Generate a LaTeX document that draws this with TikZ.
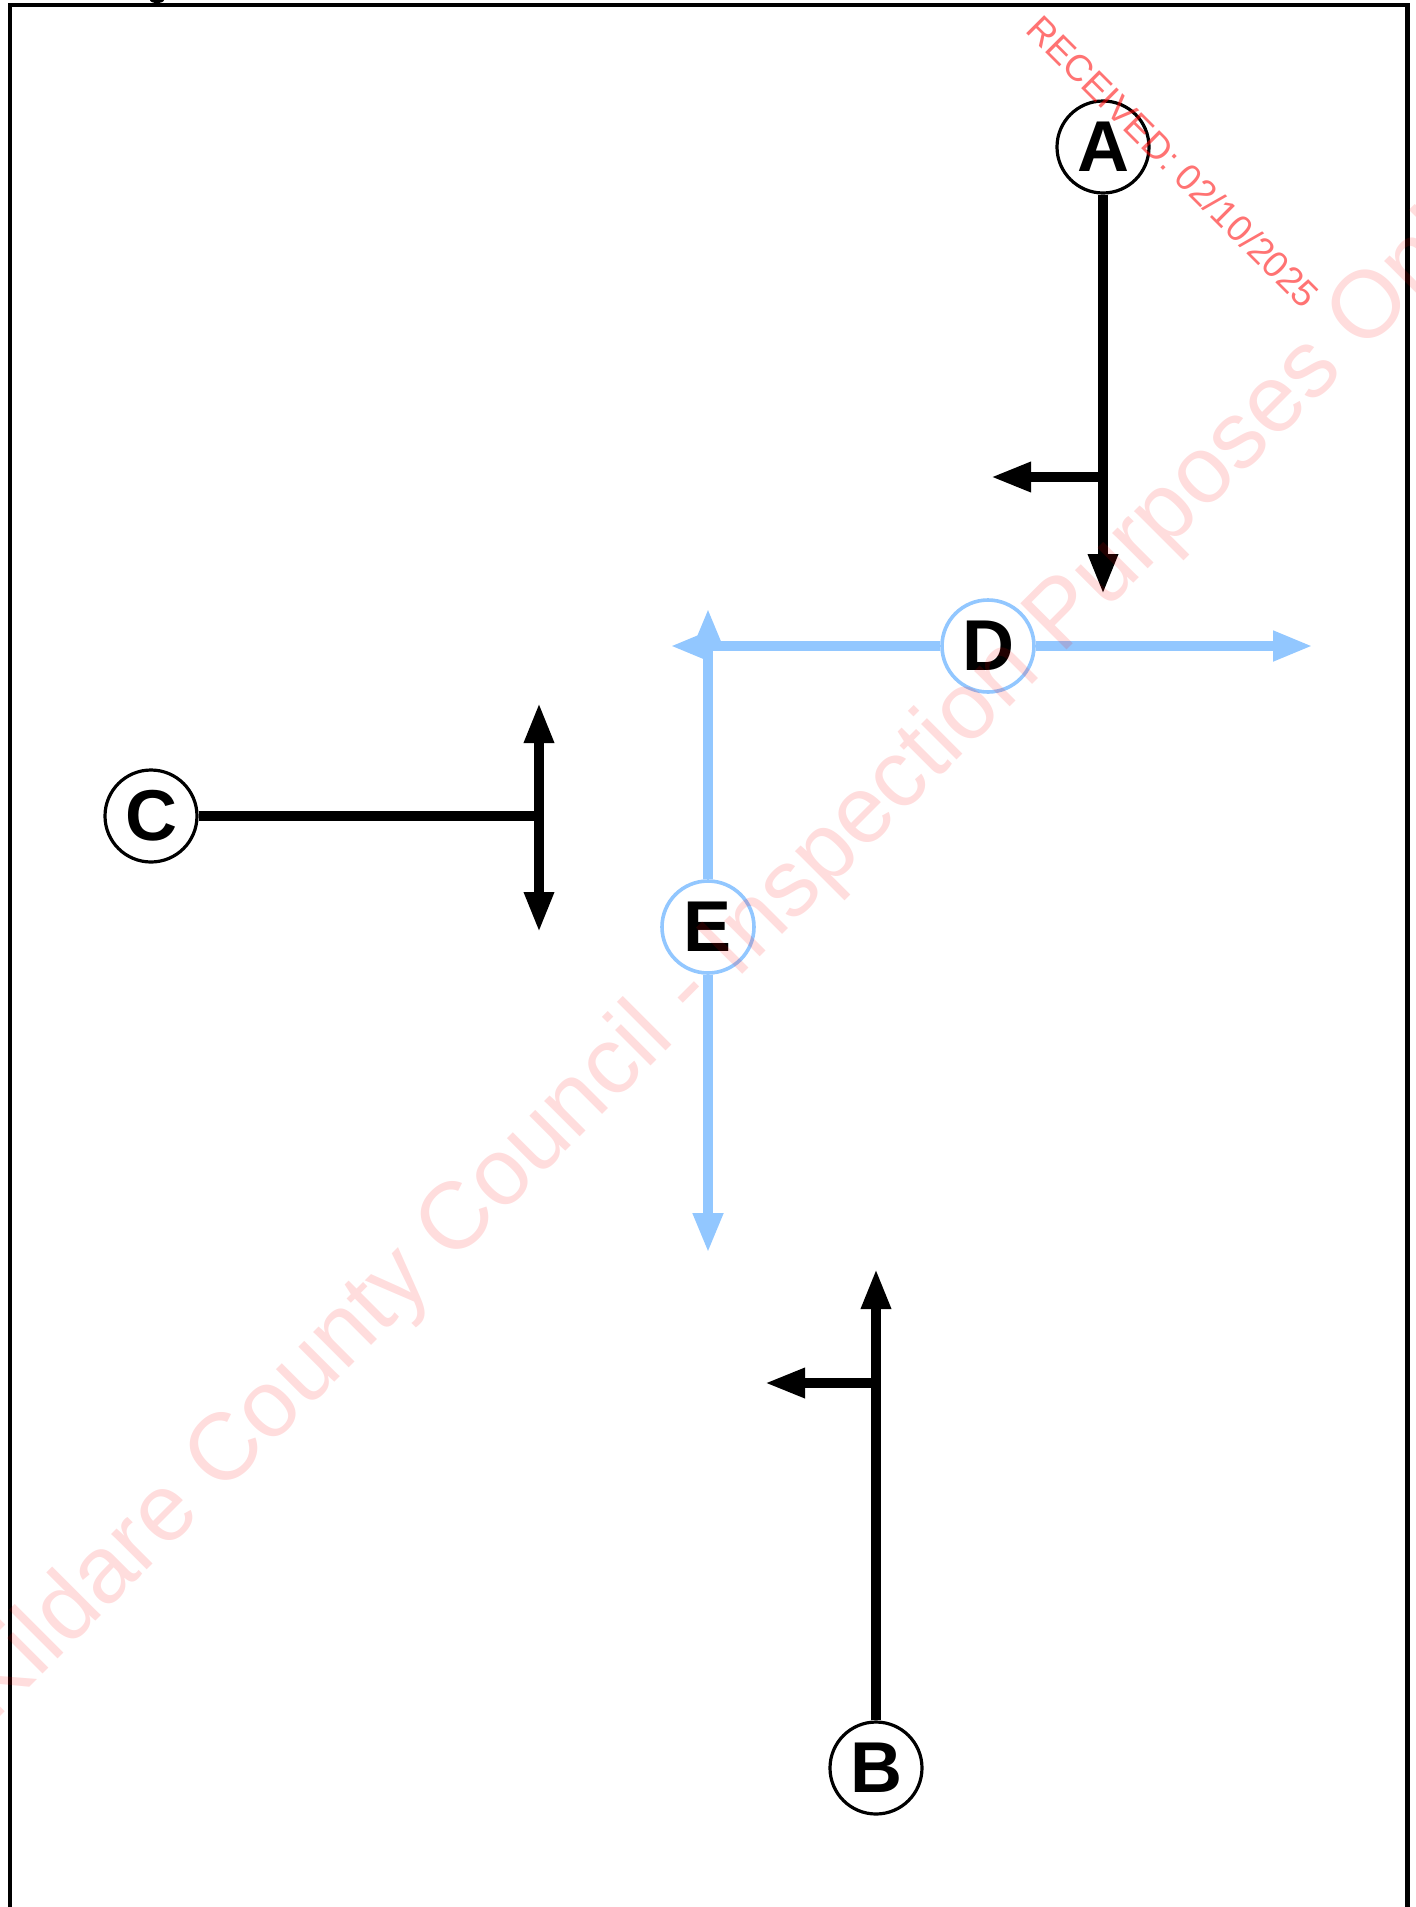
\documentclass[tikz,border=0pt]{standalone}
\usepackage{fontspec}
\setmainfont{Liberation Sans}
\usetikzlibrary{arrows.meta}
\definecolor{lblue}{RGB}{146,199,255}
\begin{document}
\begin{tikzpicture}[x=0.5pt,y=-0.5pt,
  lbl/.style={circle, draw=black, line width=1.6pt, fill=white, minimum size=46pt, inner sep=0pt,
              font=\fontsize{36}{36}\selectfont\bfseries},
  bnode/.style={lbl, draw=lblue, line width=1.8pt},
  blk/.style={line width=4.6pt, draw=black},
  blu/.style={line width=5pt, draw=lblue},
  arr/.style={-{Triangle[length=20pt,width=14pt]}},
  wmark/.style={anchor=base west, inner sep=0pt, text=red}
]
\useasboundingbox (0,0) rectangle (1416,1907);
\clip (0,0) rectangle (1416,1907);
\fill[white] (0,0) rectangle (1416,1907);
% frame
\draw[line width=2.3pt] (10,5) rectangle (1407.5,1980);
\fill (157,0) ellipse [x radius=3.5pt, y radius=1.5pt];

% nodes
\node[lbl] (A) at (1103,147) {A};
\node[lbl] (B) at (876,1768) {B};
\node[lbl] (C) at (151,816) {C};
\node[bnode] (D) at (988,646) {D};
\node[bnode] (E) at (708,927) {E};

% A connectors
\coordinate (Aend) at (1103,594);
\coordinate (Abr) at (1103,477);
\coordinate (Aleft) at (991,477);
\draw[blk,arr] (A) -- (Aend);
\draw[blk,arr] (Abr) -- (Aleft);

% B connectors
\coordinate (Bend) at (876,1269);
\coordinate (Bbr) at (876,1383);
\coordinate (Bleft) at (765,1383);
\draw[blk,arr] (B) -- (Bend);
\draw[blk,arr] (Bbr) -- (Bleft);

% C connectors
\coordinate (Cj) at (539,816);
\coordinate (Cup) at (539,703);
\coordinate (Cdown) at (539,932);
\draw[blk] (C) -- (Cj);
\draw[blk,arr] (Cj) -- (Cup);
\draw[blk,arr] (Cj) -- (Cdown);

% D / E connectors (blue)
\coordinate (Dright) at (1313,646);
\coordinate (Dleft) at (670,646);
\coordinate (Eup) at (708,608);
\coordinate (Edown) at (708,1253);
\draw[blu,arr] (D) -- (Dright);
\draw[blu,arr] (D) -- (Dleft);
\draw[blu,arr] (E) -- (Eup);
\draw[blu,arr] (E) -- (Edown);

% watermarks
\node[wmark, rotate=45, text opacity=0.135, font=\fontsize{47.5}{47.5}\selectfont] (wm) at (-6.7,1723.7)
  {Kildare County Council - Inspection Purposes Only};
\node[wmark, rotate=-45, text opacity=0.55, font=\fontsize{18.5}{18.5}\selectfont] (rcv) at (1024,31)
  {RECEIVED: 02/10/2025};
\end{tikzpicture}
\end{document}
